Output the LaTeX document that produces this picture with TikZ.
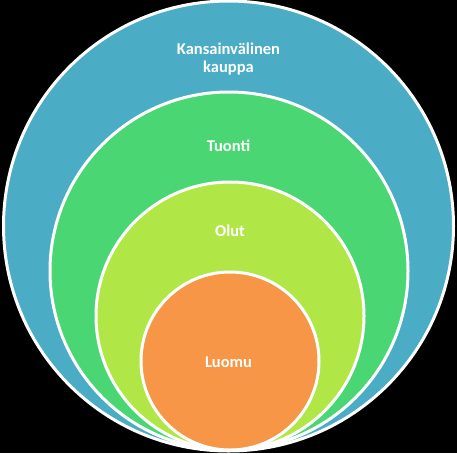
\documentclass[tikz,border=0pt]{standalone}
\usepackage{fontspec}
\setmainfont{Carlito}
\definecolor{cblue}{RGB}{75,172,198}
\definecolor{cgreen}{RGB}{73,214,115}
\definecolor{clime}{RGB}{176,230,70}
\definecolor{corange}{RGB}{247,150,70}
\begin{document}
\begin{tikzpicture}[x=1pt,y=-1pt,
  ring/.style={circle,draw=white,line width=3pt,inner sep=0pt},
  lbl/.style={text=white,font=\bfseries\fontsize{16.5}{18}\selectfont,align=center}]
\fill[black] (0,0) rectangle (457,453);
\useasboundingbox (0,0) rectangle (457,453);
\node[ring,fill=cblue,minimum size=450pt] (c1) at (228.5,226) {};
\node[ring,fill=cgreen,minimum size=358pt] (c2) at (229,271) {};
\node[ring,fill=clime,minimum size=268pt] (c3) at (230,316) {};
\node[ring,fill=corange,minimum size=178pt] (c4) at (230,361) {};
\node[lbl] (t1) at (228.5,59) {Kansainvälinen\\kauppa};
\node[lbl] (t2) at (228.5,146) {Tuonti};
\node[lbl] (t3) at (230,231) {Olut};
\node[lbl] (t4) at (228.5,362) {Luomu};
\end{tikzpicture}
\end{document}
